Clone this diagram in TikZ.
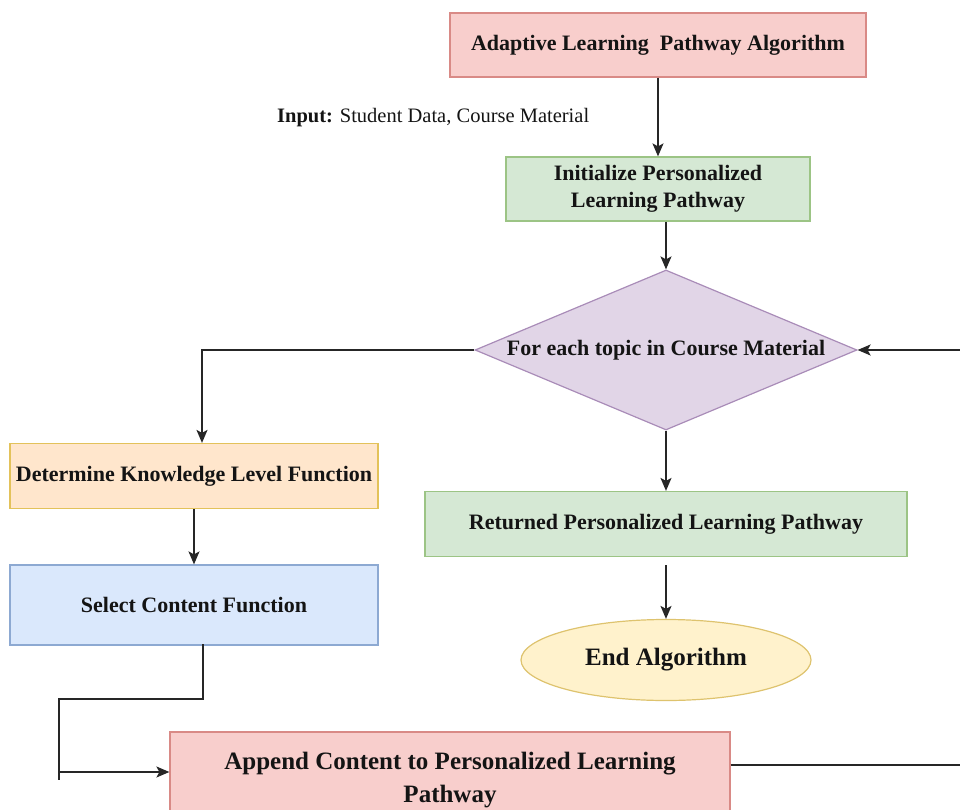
\documentclass[tikz,border=0pt]{standalone}
\usepackage{fontspec}
\setmainfont{Liberation Serif}
\usetikzlibrary{shapes.geometric,arrows.meta}

\definecolor{pinkfill}{HTML}{F8CECC}
\definecolor{pinkline}{HTML}{D98A86}
\definecolor{greenfill}{HTML}{D5E8D4}
\definecolor{greenline}{HTML}{9CC485}
\definecolor{purplefill}{HTML}{E1D5E7}
\definecolor{purpleline}{HTML}{A98CB8}
\definecolor{orangefill}{HTML}{FFE6CC}
\definecolor{orangeline}{HTML}{E3C25A}
\definecolor{bluefill}{HTML}{DAE8FC}
\definecolor{blueline}{HTML}{8DA9D2}
\definecolor{yellowfill}{HTML}{FFF2CC}
\definecolor{yellowline}{HTML}{DEC36E}
\definecolor{inktext}{HTML}{141414}

\tikzset{
  box/.style={draw, line width=1.2pt, inner sep=0pt, align=center,
    text=inktext, font=\fontsize{22}{27}\selectfont\bfseries},
  flow/.style={draw=black!85, line width=1.6pt,
    -{Stealth[length=13pt,width=11pt,inset=3pt]}},
  wire/.style={draw=black!85, line width=1.6pt},
}

\begin{document}
\begin{tikzpicture}[x=1pt,y=-1pt]
\useasboundingbox (0,0) rectangle (960,810);
\clip (0,0) rectangle (960,810);

% boxes of the main column
\node[box, fill=pinkfill, draw=pinkline, minimum width=416, minimum height=64]
  (title) at (658,45) {Adaptive Learning\ \ Pathway Algorithm};
\node[box, fill=greenfill, draw=greenline, minimum width=304, minimum height=64]
  (init) at (658,189) {Initialize Personalized\\Learning Pathway};
\node[draw=purpleline, fill=purplefill, line width=1.2pt, shape=diamond,
  minimum width=382, minimum height=160, inner sep=0pt, aspect=2.4,
  text=inktext, font=\fontsize{22}{27}\selectfont\bfseries]
  (dia) at (666,350) {For each topic in Course Material};
\node[box, fill=greenfill, draw=greenline, minimum width=482, minimum height=65]
  (ret) at (666,524) {Returned Personalized Learning Pathway};
\node[box, shape=ellipse, fill=yellowfill, draw=yellowline,
  minimum width=290, minimum height=81, font=\fontsize{25}{30}\selectfont\bfseries]
  (endalg) at (666,660) {End Algorithm};

% boxes of the loop body
\node[box, fill=orangefill, draw=orangeline, minimum width=368, minimum height=65]
  (det) at (194,476) {Determine Knowledge Level Function};
\node[box, fill=bluefill, draw=blueline, minimum width=368, minimum height=80]
  (sel) at (194,605) {Select Content Function};
\node[box, fill=pinkfill, draw=pinkline, minimum width=560, minimum height=96,
  font=\fontsize{25}{33}\selectfont\bfseries]
  (app) at (450,780) {Append Content to Personalized Learning\\Pathway};

% input note
\node[anchor=west, inner sep=0pt, text=inktext, font=\fontsize{20.5}{24}\selectfont]
  (inp) at (277,118) {\textbf{Input:} Student Data, Course Material};

% helper points for the routed connectors
\coordinate (selout) at (203,644);
\coordinate (bendA) at (203,699);
\coordinate (bendB) at (59,699);
\coordinate (stub) at (59,780);
\coordinate (appin) at (59,772);
\coordinate (loopR) at (960,765);
\coordinate (loopT) at (960,350);
\coordinate (retout) at (666,565);

% connectors
\draw[flow] (title.south) -- (init.north);
\draw[flow] (init.south -| dia.north) -- (dia.north);
\draw[flow] (dia.west) -| ([xshift=8pt]det.north);
\draw[flow] (det.south) -- (sel.north);
\draw[wire] (selout) -- (bendA) -- (bendB) -- (stub);
\draw[flow] (appin) -- (appin -| app.west);
\draw[wire] (app.east |- loopR) -- (loopR);
\draw[flow] (loopT) -- (dia.east);
\draw[flow] (dia.south) -- (ret.north);
\draw[flow] (retout) -- (endalg.north);

\end{tikzpicture}
\end{document}
